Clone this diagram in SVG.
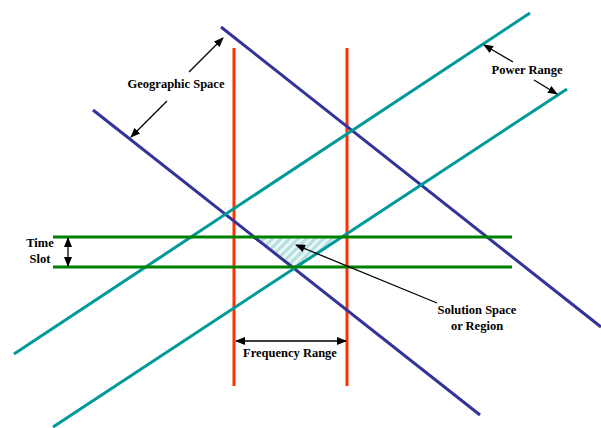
<svg xmlns="http://www.w3.org/2000/svg" width="601" height="428" viewBox="0 0 601 428">
<style>
.lbl{font-family:"Liberation Serif","Times New Roman",serif;font-weight:bold;font-size:12.5px;fill:#000}
.ptr{stroke:#000;stroke-width:1.3;fill:none}
.blue{stroke:#333399;stroke-width:3;fill:none}
.teal{stroke:#009999;stroke-width:3;fill:none}
.red{stroke:#FF3300;stroke-width:3;fill:none}
.green{stroke:#008000;stroke-width:3;fill:none}
</style>
<defs>
<marker id="ah" markerWidth="10" markerHeight="8" refX="9" refY="4" orient="auto-start-reverse" markerUnits="userSpaceOnUse">
<path d="M0,0 L10,4 L0,8 Z" fill="#000"/>
</marker>
<pattern id="hatch" width="6" height="6" patternUnits="userSpaceOnUse" patternTransform="rotate(45)">
<rect width="6" height="6" fill="#e8f6f6"/>
<rect width="3" height="6" fill="#b5dfdf"/>
</pattern>
</defs>
<rect width="601" height="428" fill="#fff"/>
<g id="solution-region">
<polygon points="252,237 343,237 294,267" fill="url(#hatch)" stroke="#000" stroke-width="1"/>
</g>
<g id="frequency-lines">
<line class="red" x1="234" y1="48" x2="234" y2="386"/>
<line class="red" x1="347" y1="48" x2="347" y2="386"/>
</g>
<g id="geographic-lines">
<line class="blue" x1="221" y1="27" x2="601" y2="327"/>
<line class="blue" x1="93" y1="110" x2="480" y2="415"/>
</g>
<g id="power-lines">
<line class="teal" x1="14" y1="354" x2="530" y2="13"/>
<line class="teal" x1="53" y1="427" x2="567" y2="89"/>
</g>
<g id="time-lines">
<line class="green" x1="53" y1="237" x2="512" y2="237"/>
<line class="green" x1="53" y1="267" x2="512" y2="267"/>
</g>
<g id="connectors">
<line class="ptr" x1="189" y1="72" x2="223" y2="38" marker-end="url(#ah)"/>
<line class="ptr" x1="167" y1="101" x2="131" y2="137" marker-end="url(#ah)"/>
<line class="ptr" x1="513" y1="62" x2="484" y2="45" marker-end="url(#ah)"/>
<line class="ptr" x1="534" y1="80" x2="557" y2="94" marker-end="url(#ah)"/>
<line class="ptr" x1="68" y1="238" x2="68" y2="266" marker-start="url(#ah)" marker-end="url(#ah)"/>
<line class="ptr" x1="236" y1="341" x2="346" y2="341" marker-start="url(#ah)" marker-end="url(#ah)"/>
<line class="ptr" x1="437" y1="303" x2="296" y2="245" marker-end="url(#ah)"/>
</g>
<g id="label-geographic">
<text class="lbl" x="176" y="88" text-anchor="middle">Geographic Space</text>
</g>
<g id="label-power">
<text class="lbl" x="527" y="74" text-anchor="middle">Power Range</text>
</g>
<g id="label-time">
<text class="lbl" x="40" y="247" text-anchor="middle">Time</text>
<text class="lbl" x="40" y="263" text-anchor="middle">Slot</text>
</g>
<g id="label-frequency">
<text class="lbl" x="290" y="357" text-anchor="middle">Frequency Range</text>
</g>
<g id="label-solution">
<text class="lbl" x="477" y="314" text-anchor="middle">Solution Space</text>
<text class="lbl" x="477" y="330" text-anchor="middle">or Region</text>
</g>
</svg>
